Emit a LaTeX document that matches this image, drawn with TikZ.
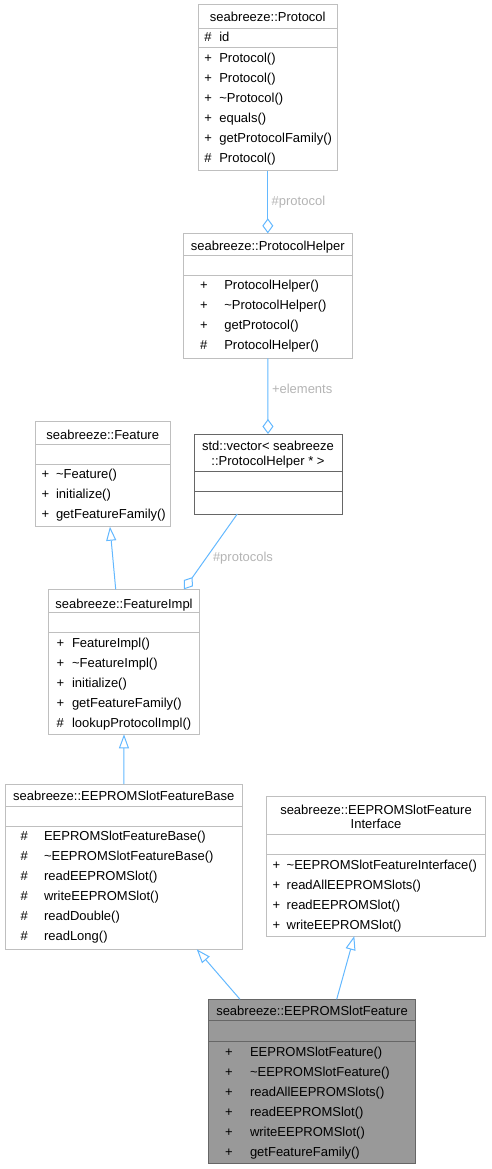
\documentclass[tikz,border=0pt]{standalone}
\usepackage{fontspec}
\setmainfont{Liberation Sans}
\usetikzlibrary{arrows.meta,calc}
\definecolor{edgeblue}{HTML}{63B8FF}
\definecolor{boxgray}{HTML}{BFBFBF}
\definecolor{bordark}{HTML}{666666}
\definecolor{fillgray}{HTML}{999999}
\definecolor{labgray}{HTML}{B4B4B4}
\tikzset{
 cls/.style={draw=boxgray, line width=0.9pt, fill=white, inner sep=0pt, outer sep=0pt, anchor=north west, rectangle},
 sepline/.style={draw=boxgray, line width=0.9pt},
 txt/.style={inner sep=0pt, outer sep=0pt, font=\fontsize{13}{15}\selectfont, anchor=base west},
 ttl/.style={txt, anchor=base},
 inh/.style={draw=edgeblue, line width=1pt, -{Triangle[open, length=14pt, width=10pt, fill=white]}},
 agg/.style={draw=edgeblue, line width=1pt, -{Diamond[open, length=15pt, width=11pt, fill=white]}},
 elab/.style={txt, text=labgray},
}
\begin{document}
\begin{tikzpicture}[x=1pt, y=-1pt]
\useasboundingbox (0,0) rectangle (491,1169);
\def\bo{5.2}

% ---------- boxes ----------
\node[cls, minimum width=139pt, minimum height=166pt] (proto) at (198.3,4.7) {};
\node[cls, minimum width=169pt, minimum height=125pt] (helper) at (183.3,233.3) {};
\node[cls, draw=bordark, minimum width=148pt, minimum height=80pt] (vec) at (194,434) {};
\node[cls, minimum width=134.7pt, minimum height=105.7pt] (feat) at (35.3,421) {};
\node[cls, minimum width=150.6pt, minimum height=145pt] (fimpl) at (48.7,589.3) {};
\node[cls, minimum width=237.7pt, minimum height=165.3pt] (base) at (5,784) {};
\node[cls, minimum width=218.6pt, minimum height=139.3pt] (iface) at (266.7,796.7) {};
\node[cls, draw=bordark, fill=fillgray, minimum width=207.4pt, minimum height=164pt] (final) at (208.3,999.3) {};

% ---------- separators ----------
\draw[sepline] (198.3,28.3) -- (337.3,28.3);
\draw[sepline] (198.3,47.7) -- (337.3,47.7);
\draw[sepline] (183.3,255.7) -- (352.3,255.7);
\draw[sepline] (183.3,275.7) -- (352.3,275.7);
\draw[sepline, draw=bordark] (194,471.7) -- (342,471.7);
\draw[sepline, draw=bordark] (194,491) -- (342,491);
\draw[sepline] (35.3,444) -- (170,444);
\draw[sepline] (35.3,464) -- (170,464);
\draw[sepline] (48.7,612.7) -- (199.3,612.7);
\draw[sepline] (48.7,632.3) -- (199.3,632.3);
\draw[sepline] (5,806.7) -- (242.7,806.7);
\draw[sepline] (5,826.7) -- (242.7,826.7);
\draw[sepline] (266.7,834.3) -- (485.3,834.3);
\draw[sepline] (266.7,854.3) -- (485.3,854.3);
\draw[sepline, draw=bordark] (208.3,1020.7) -- (415.7,1020.7);
\draw[sepline, draw=bordark] (208.3,1041.7) -- (415.7,1041.7);

% ---------- titles ----------
\node[ttl] (protoT) at (267.8,16.7+\bo) {seabreeze::Protocol};
\node[ttl] (helperT) at (267.8,245+\bo) {seabreeze::ProtocolHelper};
\node[ttl] (vecT1) at (268,445+\bo) {std::vector< seabreeze};
\node[ttl] (vecT2) at (268,460+\bo) {::ProtocolHelper * >};
\node[ttl] (featT) at (102.7,434+\bo) {seabreeze::Feature};
\node[ttl] (fimplT) at (124,603.3+\bo) {seabreeze::FeatureImpl};
\node[ttl] (baseT) at (123.8,795.7+\bo) {seabreeze::EEPROMSlotFeatureBase};
\node[ttl] (ifaceT1) at (376,809+\bo) {seabreeze::EEPROMSlotFeature};
\node[ttl] (ifaceT2) at (376,823.3+\bo) {Interface};
\node[ttl] (finalT) at (312,1010.7+\bo) {seabreeze::EEPROMSlotFeature};

% ---------- members ----------
\node[txt] (pa-s) at (204.3,36.7+\bo) {\#};
\node[txt] (pa-n) at (219.3,36.7+\bo) {id};
\foreach \s/\nm/\yy [count=\i] in {+/Protocol()/57.3, +/Protocol()/77.3, +/\textasciitilde Protocol()/97.3, +/equals()/117.3, +/getProtocolFamily()/137.3, \#/Protocol()/157.3}{
  \node[txt] (pm-s\i) at (204.3,\yy+\bo) {\s};
  \node[txt] (pm-n\i) at (219.3,\yy+\bo) {\nm};
}
\foreach \s/\nm/\yy [count=\i] in {+/ProtocolHelper()/284.3, +/\textasciitilde ProtocolHelper()/304.3, +/getProtocol()/324.3, \#/ProtocolHelper()/344.3}{
  \node[txt] (hm-s\i) at (200,\yy+\bo) {\s};
  \node[txt] (hm-n\i) at (224.3,\yy+\bo) {\nm};
}
\foreach \s/\nm/\yy [count=\i] in {+/\textasciitilde Feature()/473.3, +/initialize()/493.3, +/getFeatureFamily()/513.3}{
  \node[txt] (fm-s\i) at (41.7,\yy+\bo) {\s};
  \node[txt] (fm-n\i) at (56,\yy+\bo) {\nm};
}
\foreach \s/\nm/\yy [count=\i] in {+/FeatureImpl()/642.3, +/\textasciitilde FeatureImpl()/662.3, +/initialize()/682.3, +/getFeatureFamily()/702.3, \#/lookupProtocolImpl()/722.3}{
  \node[txt] (im-s\i) at (56.7,\yy+\bo) {\s};
  \node[txt] (im-n\i) at (72,\yy+\bo) {\nm};
}
\foreach \s/\nm/\yy [count=\i] in {\#/EEPROMSlotFeatureBase()/835.7, \#/\textasciitilde EEPROMSlotFeatureBase()/855.7, \#/readEEPROMSlot()/875.7, \#/writeEEPROMSlot()/895.7, \#/readDouble()/915.7, \#/readLong()/935.7}{
  \node[txt] (bm-s\i) at (20.7,\yy+\bo) {\s};
  \node[txt] (bm-n\i) at (44,\yy+\bo) {\nm};
}
\foreach \s/\nm/\yy [count=\i] in {+/\textasciitilde EEPROMSlotFeatureInterface()/864, +/readAllEEPROMSlots()/884, +/readEEPROMSlot()/904, +/writeEEPROMSlot()/924}{
  \node[txt] (xm-s\i) at (272.7,\yy+\bo) {\s};
  \node[txt] (xm-n\i) at (286.7,\yy+\bo) {\nm};
}
\foreach \s/\nm/\yy [count=\i] in {+/EEPROMSlotFeature()/1051, +/\textasciitilde EEPROMSlotFeature()/1071, +/readAllEEPROMSlots()/1091, +/readEEPROMSlot()/1111, +/writeEEPROMSlot()/1131, +/getFeatureFamily()/1151}{
  \node[txt] (gm-s\i) at (225,\yy+\bo) {\s};
  \node[txt] (gm-n\i) at (250,\yy+\bo) {\nm};
}

% ---------- connectors ----------
\draw[agg] (proto.south) -- (helper.north);
\draw[agg] (helper.south) -- (vec.north);
\draw[agg] ([xshift=-30.7pt]vec.south) -- ([xshift=60pt]fimpl.north);
\draw[inh] ([xshift=-8.3pt]fimpl.north) -- ([xshift=7.3pt]feat.south);
\draw[inh] (base.north) -- (fimpl.south);
\draw[inh] ([xshift=-72pt]final.north) -- ([xshift=72.9pt]base.south);
\draw[inh] ([xshift=24.7pt]final.north) -- ([xshift=-21.7pt]iface.south);

% ---------- edge labels ----------
\node[elab] (lab1) at (271.7,200+\bo) {\#protocol};
\node[elab] (lab2) at (272,388+\bo) {+elements};
\node[elab] (lab3) at (213,556.7+\bo) {\#protocols};
\end{tikzpicture}
\end{document}
